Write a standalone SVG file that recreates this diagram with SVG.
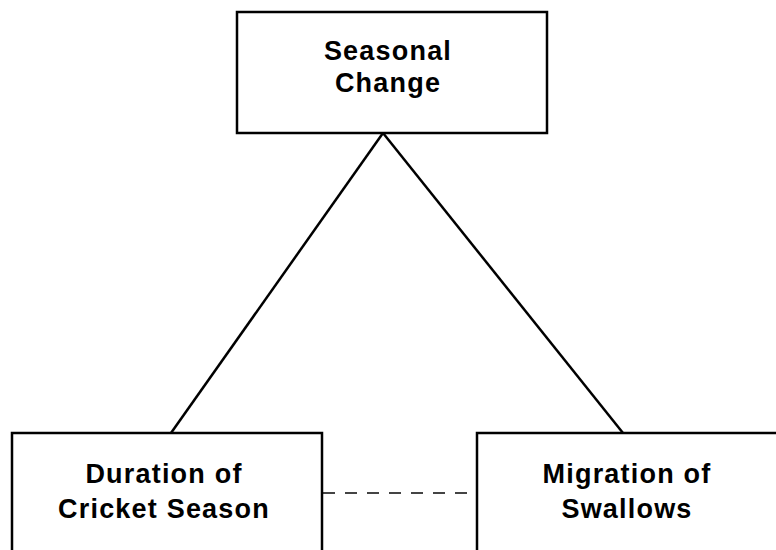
<svg xmlns="http://www.w3.org/2000/svg" width="776" height="550" viewBox="0 0 776 550">
<style>
.box{fill:#fff;stroke:#000;stroke-width:2.5}
.lbl{font-family:"Liberation Sans",Arial,sans-serif;font-weight:bold;font-size:27px;letter-spacing:1.2px;text-anchor:middle;fill:#000}
.link{stroke:#000;stroke-width:2.5;fill:none}
.dash{stroke:#444;stroke-width:2;stroke-dasharray:12 10;fill:none}
</style>
<rect width="776" height="550" fill="#fff"/>
<g id="connectors">
<line class="link" x1="383" y1="133" x2="171" y2="433"/>
<line class="link" x1="383" y1="133" x2="623" y2="433"/>
<line class="dash" x1="323" y1="493" x2="476" y2="493"/>
</g>
<g id="seasonal-change">
<rect class="box" x="237" y="12" width="310" height="121"/>
<text class="lbl" x="388" y="60">Seasonal</text>
<text class="lbl" x="388" y="92">Change</text>
</g>
<g id="cricket-season">
<rect class="box" x="12" y="433" width="310" height="125"/>
<text class="lbl" x="164" y="483">Duration of</text>
<text class="lbl" x="164" y="518">Cricket Season</text>
</g>
<g id="swallows">
<rect class="box" x="477" y="433" width="310" height="125"/>
<text class="lbl" x="627" y="483">Migration of</text>
<text class="lbl" x="627" y="518">Swallows</text>
</g>
</svg>
